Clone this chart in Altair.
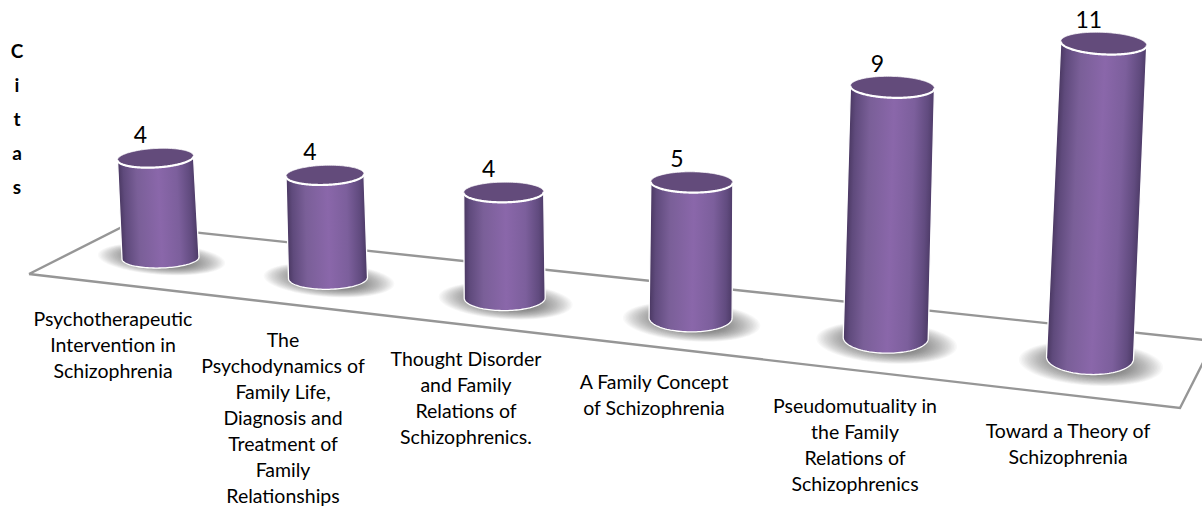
import numpy as np
import pandas as pd
import altair as alt

# Chart content
titles = [
    "Psychotherapeutic\nIntervention in\nSchizophrenia",
    "The\nPsychodynamics of\nFamily Life,\nDiagnosis and\nTreatment of\nFamily\nRelationships",
    "Thought Disorder\nand Family\nRelations of\nSchizophrenics.",
    "A Family Concept\nof Schizophrenia",
    "Pseudomutuality in\nthe Family\nRelations of\nSchizophrenics",
    "Toward a Theory of\nSchizophrenia",
]
citations = [4, 4, 4, 5, 9, 11]
axis_title = "C\ni\nt\na\ns"

# Category label anchors on the canvas
label_center = [113, 283, 466, 654, 855, 1068]
label_top = [311, 332, 351, 374, 398, 423]

W, H = 1202, 507
xs = alt.Scale(domain=[0, W], nice=False, zero=False)
ys = alt.Scale(domain=[H, 0], nice=False, zero=False)
X = alt.X("x:Q", scale=xs, axis=None)
Y = alt.Y("y:Q", scale=ys, axis=None)
Y2 = alt.Y2("y2:Q")


# Floor-perspective model: each further category sits lower, larger and leans outward.
def base_x(i):
    return 160.5 + 167.5 * i + 4.6 * i * (i - 1)


def base_y(i):
    return 258 + 20 * i


def width_at(i):
    return 77 + 2 * i


def unit_height(i):
    return 25 + 0.72 * i


def lean_per_unit(i):
    return -1.25 + 0.5 * i


def top_shear(i):
    return -2.0 + 0.8 * i


def ellipse_band(cx, cy, rx, ry, shear, n=90):
    t = np.linspace(0, np.pi, n)
    x = cx - rx * np.cos(t)
    mid = cy - shear * np.cos(t)
    return pd.DataFrame({"x": x, "y": mid - ry * np.sin(t), "y2": mid + ry * np.sin(t)})


def ellipse_ring(cx, cy, rx, ry, shear, start=0.0, stop=2 * np.pi, n=120):
    t = np.linspace(start, stop, n)
    return pd.DataFrame({
        "x": cx - rx * np.cos(t),
        "y": cy - shear * np.cos(t) + ry * np.sin(t),
        "k": np.arange(n),
    })


def polygon_band(points):
    """Turn a convex outline, listed clockwise, into upper/lower boundaries over x."""
    p = np.asarray(points)
    a, b = int(p[:, 0].argmin()), int(p[:, 0].argmax())
    n = len(p)
    upper = p[[(a + j) % n for j in range((b - a) % n + 1)]]
    lower = p[[(b + j) % n for j in range((a - b) % n + 1)]][::-1]
    grid = np.unique(np.concatenate([p[:, 0], np.linspace(p[:, 0].min(), p[:, 0].max(), 200)]))
    return pd.DataFrame({
        "x": grid,
        "y": np.interp(grid, upper[:, 0], upper[:, 1]),
        "y2": np.interp(grid, lower[:, 0], lower[:, 1]),
    })


STOPS = [
    ("#4a3862", 0.0), ("#5f4a7c", 0.07), ("#7a5f98", 0.24), ("#8a67aa", 0.52),
    ("#7c5f9c", 0.76), ("#614b7f", 0.92), ("#4c3a66", 1.0),
]


def lean_gradient(left_base, right_base, left_top, box):
    """Linear gradient whose colour bands follow the slant of the cylinder wall."""
    (x0, x1), (y0, y1) = box
    bw, bh = x1 - x0, y1 - y0
    norm = lambda q: np.array([(q[0] - x0) / bw, (q[1] - y0) / bh])
    p0, p1, pt = norm(left_base), norm(right_base), norm(left_top)
    along = pt - p0
    normal = np.array([-along[1], along[0]]) / np.hypot(*along)
    if normal[0] < 0:
        normal = -normal
    end = p0 + normal * np.dot(p1 - p0, normal)
    return alt.Gradient(
        gradient="linear",
        x1=float(p0[0]), y1=float(p0[1]), x2=float(end[0]), y2=float(end[1]),
        stops=[alt.GradientStop(color=c, offset=o) for c, o in STOPS],
    )


# Ground plane outline
floor_edges = pd.DataFrame({
    "x": [29, 126, 1214, 1180, 29],
    "y": [274, 225, 341, 408, 274],
    "k": range(5),
})
layers = [
    alt.Chart(floor_edges).mark_line(color="#969696", strokeWidth=2.4, clip=True).encode(
        x=X, y=Y, order="k:Q"
    )
]

# Soft contact shadows, built from nested translucent ellipses
shadow_rows = []
for i in range(len(citations)):
    for step, f in enumerate(np.linspace(1.06, 0.5, 26)):
        band = ellipse_band(
            base_x(i) + 1, base_y(i) + 1 + 0.9 * i,
            (60 + 1.6 * i) * f, (15 + 1.2 * i) * f, 4,
        )
        band["ring"] = f"{i}-{step}"
        shadow_rows.append(band)
layers.append(
    alt.Chart(pd.concat(shadow_rows)).mark_area(color="#404040", opacity=0.03).encode(
        x=X, y=Y, y2=Y2, detail="ring:N"
    )
)

value_rows = []
for i, v in enumerate(citations):
    cx, cy, w = base_x(i), base_y(i), width_at(i)
    rb = 10 + 1.3 * i
    tx = cx + lean_per_unit(i) * v
    ty = cy - unit_height(i) * v
    tw = w - 1
    rt = 9.5 + 0.3 * i
    shear = top_shear(i)
    base_shear = shear * 0.5

    tl = (tx - tw / 2, ty - shear)
    tr = (tx + tw / 2, ty + shear)
    bl = (cx - w / 2, cy - base_shear)
    br = (cx + w / 2, cy + base_shear)

    t = np.linspace(0, np.pi, 60)
    arc = np.column_stack([
        cx + w / 2 * np.cos(t),
        cy + base_shear * np.cos(t) + rb * np.sin(t),
    ])
    outline = [tl, tr] + [tuple(q) for q in arc]
    body = polygon_band(outline)
    box = ((body.x.min(), body.x.max()), (body.y.min(), body.y2.max()))
    fill = lean_gradient(bl, br, tl, box)

    layers.append(alt.Chart(body).mark_area(fill=fill, stroke=None).encode(x=X, y=Y, y2=Y2))

    # Pale rim around the wall and base
    rim = pd.DataFrame(np.vstack([[tr], arc, [tl]]), columns=["x", "y"])
    rim["k"] = np.arange(len(rim))
    layers.append(
        alt.Chart(rim).mark_line(color="#ffffff", strokeWidth=1.3).encode(x=X, y=Y, order="k:Q")
    )

    # Cap of the cylinder
    layers.append(
        alt.Chart(ellipse_band(tx, ty, tw / 2, rt, shear)).mark_area(color="#634b7b").encode(
            x=X, y=Y, y2=Y2
        )
    )
    layers.append(
        alt.Chart(ellipse_ring(tx, ty, tw / 2, rt, shear)).mark_line(
            color="#ffffff", strokeWidth=1.0, opacity=0.7
        ).encode(x=X, y=Y, order="k:Q")
    )
    layers.append(
        alt.Chart(ellipse_ring(tx, ty, tw / 2, rt, shear, 0, np.pi)).mark_line(
            color="#ffffff", strokeWidth=2.2
        ).encode(x=X, y=Y, order="k:Q")
    )
    value_rows.append({"x": tx - 15, "y": ty - 22, "label": str(v)})

# Value labels above the cylinders
layers.append(
    alt.Chart(pd.DataFrame(value_rows)).mark_text(
        font="Lato", fontSize=23, color="#000000", align="center", baseline="middle"
    ).encode(x=X, y=Y, text="label:N")
)

# Category names
layers.append(
    alt.Chart(pd.DataFrame({"x": label_center, "y": label_top, "label": titles})).mark_text(
        font="Lato", fontSize=19.5, color="#000000", align="center", baseline="top",
        lineBreak="\n", lineHeight=26,
    ).encode(x=X, y=Y, text="label:N")
)

# Vertical axis caption, one letter per line
layers.append(
    alt.Chart(pd.DataFrame({"x": [17], "y": [43], "label": [axis_title]})).mark_text(
        font="Lato", fontSize=19, fontWeight="bold", color="#000000", align="center",
        baseline="top", lineBreak="\n", lineHeight=34,
    ).encode(x=X, y=Y, text="label:N")
)

chart = (
    alt.layer(*layers)
    .properties(width=W, height=H, padding=0, autosize=alt.AutoSizeParams(type="none"),
                background="#ffffff")
    .configure_view(stroke=None)
)

chart.save("out.html", embed_options={"renderer": "svg", "actions": False})
